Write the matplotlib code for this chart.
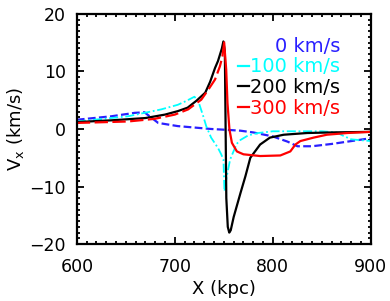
import matplotlib
matplotlib.use('Agg')
import matplotlib.pyplot as plt
from matplotlib.lines import Line2D
from matplotlib.ticker import MultipleLocator

# velocidades (X en kpc, Vx en km/s)
x_0 = [600, 635, 659, 669, 683, 703, 737, 758, 767, 780, 800, 815, 825, 840, 860, 880, 900]
v_0 = [1.6, 2.2, 2.8, 2.9, 1.05, 0.5, 0.0, -0.2, -0.3, -0.6, -1.3, -2.2, -3.0, -3.0, -2.6, -2.1, -1.6]

x_100 = [600, 652, 686, 703, 712, 720, 724, 729, 732, 737, 744, 747, 749.6, 750.6, 753, 756.4,
         763, 767, 775, 785, 800, 850, 865, 872, 880, 900]
v_100 = [1.3, 2.2, 3.4, 4.2, 4.9, 5.6, 4.8, 2.2, 0.5, -1.5, -3.3, -4.3, -5.3, -10.8, -8.2, -5.3,
         -2.6, -1.9, -1.1, -0.7, -0.4, -0.4, -0.6, -1.2, -1.8, -2.1]

x_200 = [600, 635, 670, 690, 703, 713, 722, 731, 736, 741, 744, 746, 748, 749.5, 751, 752.5,
         754, 755.5, 757, 760, 767, 772, 777, 787, 797, 811, 835, 860, 900]
v_200 = [1.2, 1.5, 1.9, 2.5, 3.1, 3.7, 4.9, 6.3, 8.2, 10.6, 11.8, 12.9, 14.0, 15.2, 13.5, -12.0,
         -17.0, -18.0, -17.6, -15.3, -11.1, -8.2, -5.0, -2.7, -1.5, -1.0, -0.7, -0.6, -0.5]

x_300 = [600, 652, 679, 700, 713.5, 727, 734, 741, 746, 748.5, 750.3, 752.4, 753.7, 755.7, 758.2,
         763.3, 770, 787, 807.6, 817.8, 823, 828, 841.6, 855, 876, 900]
v_300 = [1.05, 1.3, 1.75, 2.5, 3.4, 5.1, 6.8, 8.6, 10.9, 12.6, 15.0, 10.3, 4.5, -0.1, -2.4,
         -3.9, -4.4, -4.7, -4.6, -3.9, -2.7, -2.1, -1.5, -1.0, -0.7, -0.5]

labels = ['    0 km/s', '100 km/s', '200 km/s', '300 km/s']
colors = ['#2a1fff', '#00ffff', 'black', '#ff0000']

fig = plt.figure(figsize=(3.9, 3.01), dpi=100)
ax = fig.add_axes([0.197, 0.189, 0.754, 0.765])

ax.plot(x_0, v_0, color=colors[0], lw=1.6, dashes=(3.5, 1.5))
ax.plot(x_100, v_100, color=colors[1], lw=1.3, dashes=(5, 1.5, 1, 1.5))
ax.plot(x_200, v_200, color=colors[2], lw=1.6)
# la parte ruidosa de 300 km/s parece continua
k = x_300.index(750.3)
ax.plot(x_300[:k + 1], v_300[:k + 1], color=colors[3], lw=1.6, dashes=(6, 2))
ax.plot(x_300[k:], v_300[k:], color=colors[3], lw=1.6)

ax.set_xlim(600, 900)
ax.set_ylim(-20, 20)
ax.xaxis.set_major_locator(MultipleLocator(100))
ax.xaxis.set_minor_locator(MultipleLocator(10))
ax.yaxis.set_major_locator(MultipleLocator(10))
ax.yaxis.set_minor_locator(MultipleLocator(1))
ax.tick_params(which='both', direction='in', top=True, right=True, width=1.3)
ax.tick_params(which='major', length=5)
ax.tick_params(which='minor', length=2.5)
ax.tick_params(axis='x', labelsize=12.5, pad=10)
ax.tick_params(axis='y', labelsize=12.5, pad=8)
for s in ax.spines.values():
    s.set_linewidth(1.6)

ax.set_xlabel('X (kpc)', fontsize=13, labelpad=3)
ax.set_ylabel('V$_\\mathregular{x}$ (km/s)', fontsize=13, labelpad=2)

handles = [Line2D([], [], color='none')] + [Line2D([], [], color=c, lw=1.6) for c in colors[1:]]
ax.legend(handles, labels, loc='upper right', bbox_to_anchor=(0.895, 0.9),
          frameon=False, fontsize=14, labelcolor=colors, handlelength=0.55,
          handletextpad=0.05, labelspacing=0.08, borderaxespad=0, borderpad=0)

plt.savefig('out.png', dpi=100)
